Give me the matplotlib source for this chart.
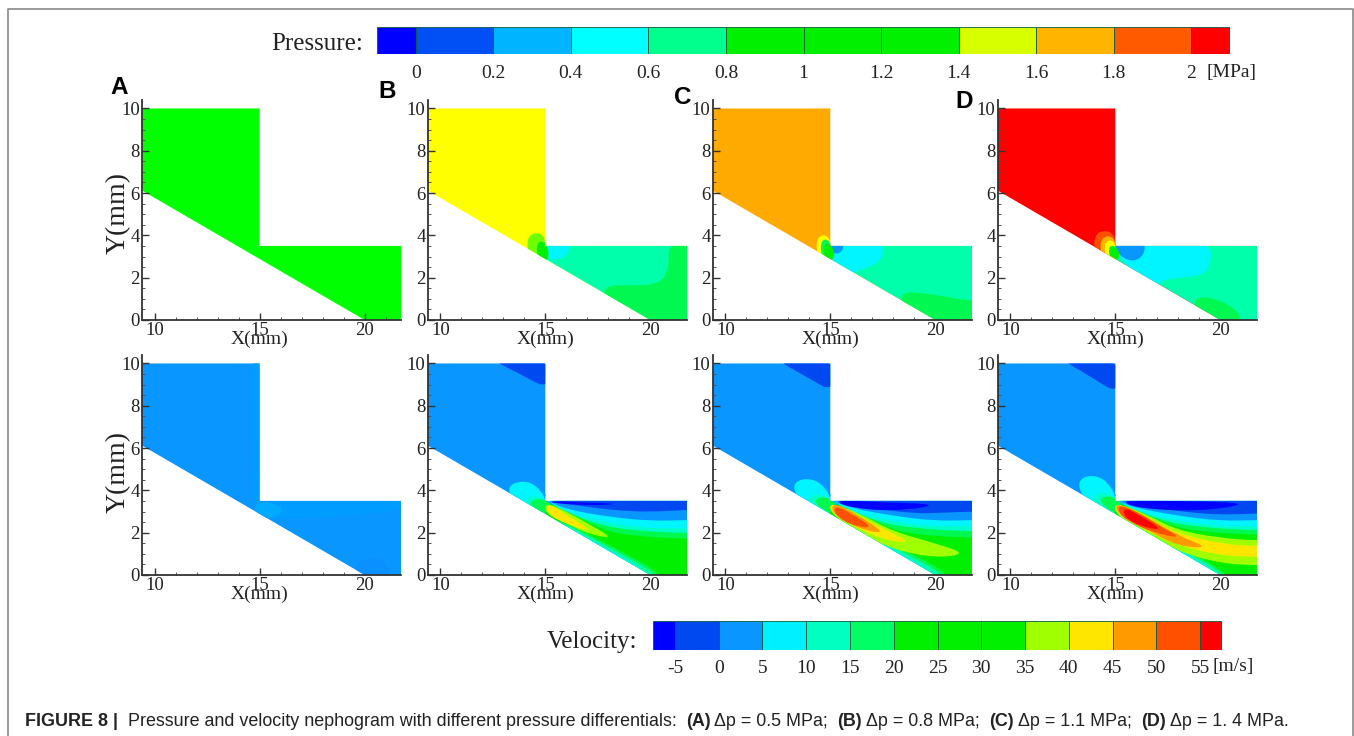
# coding: utf-8
import matplotlib
matplotlib.use('Agg')
import matplotlib.pyplot as plt
from matplotlib.path import Path
from matplotlib.patches import PathPatch, Polygon
import numpy as np

W, H = 1354, 736

# colour bars
p_ticks = [0, 0.2, 0.4, 0.6, 0.8, 1, 1.2, 1.4, 1.6, 1.8, 2]
p_edges = [-0.1, 0, 0.2, 0.4, 0.6, 0.8, 1, 1.2, 1.4, 1.6, 1.8, 2, 2.1]
p_colors = ['#0000ff', '#0050f5', '#00b4ff', '#00ffff', '#00ff8c', '#00f000',
            '#00f000', '#00f000', '#d8ff00', '#ffb400', '#ff5a00', '#ff0000']
v_ticks = [-5, 0, 5, 10, 15, 20, 25, 30, 35, 40, 45, 50, 55]
v_edges = [-7.5, -5, 0, 5, 10, 15, 20, 25, 30, 35, 40, 45, 50, 55, 57.5]
v_colors = ['#0000ff', '#0048f0', '#0a96ff', '#00f0ff', '#00ffc0', '#00ff64', '#00f000',
            '#00f000', '#00f000', '#a0ff00', '#ffe600', '#ff9a00', '#ff5000', '#ff0000']

# flow domain, mm
domain = [(9.4, 10), (15, 10), (15, 3.5), (21.75, 3.5), (21.75, 0), (20, 0), (9.4, 6.12)]
x_ticks = [10, 15, 20]
y_ticks = [0, 2, 4, 6, 8, 10]

GREEN = '#00f000'
AQUA = '#00ffaa'
CYAN = '#00f5ff'
SKY = '#0a96ff'
BLUE1 = '#0048f0'
BLUE0 = '#0000ff'
MINT = '#00ffc8'
LIME = '#00f850'
YGREEN = '#a0ff00'
YELLOW = '#ffe600'
ORANGE = '#ff9a00'
DORANGE = '#ff5000'
RED = '#ff0000'

# pressure contours: (colour, outline in mm), painted in order
pa_base = '#00ff00'
pa_regions = []

pb_base = '#ffff00'
pb_regions = [
    (AQUA, [(15, 3.9), (24, 3.9), (24, -2), (14, -2), (14.9, 3.1)]),
    (LIME, [(20.85, 3.8), (20.9, 2.5), (20.5, 1.7), (19, 1.62), (18, 1.65), (17.7, 1.2), (18, -1), (24, -1), (24, 3.8)]),
    (CYAN, [(15, 3.8), (16.25, 3.8), (16.1, 3.05), (15.5, 2.8), (15, 3.0)]),
    ('#70ff00', [(14.15, 3.0), (14.15, 4.1), (15.02, 4.1), (15.02, 2.7)]),
    (GREEN, [(14.6, 3.0), (14.6, 3.7), (15.02, 3.7), (15.2, 3.1), (15.0, 2.7)]),
]

pc_base = '#ffaa00'
pc_regions = [
    (AQUA, [(15, 3.9), (24, 3.9), (24, -2), (14, -2), (14.9, 3.1)]),
    (LIME, [(18.3, 0.9), (18.5, 1.3), (19.2, 1.3), (20.5, 1.1), (21.75, 0.88), (24, 0.88), (24, -1), (19, -1)]),
    (CYAN, [(15, 3.8), (17.5, 3.8), (17.5, 2.9), (17, 2.55), (16.2, 2.3), (15.5, 2), (15, 3)]),
    (SKY, [(15, 3.8), (15.65, 3.8), (15.6, 3.25), (15.25, 3.1), (15, 3.3)]),
    ('#ffff00', [(14.35, 3.0), (14.35, 4.0), (15.02, 4.0), (15.02, 2.7)]),
    (LIME, [(14.55, 3.0), (14.55, 3.8), (15.02, 3.8), (15.02, 2.7)]),
    (GREEN, [(14.7, 3.0), (14.7, 3.6), (15.02, 3.6), (15.25, 3.1), (15.0, 2.7)]),
]

pd_base = '#ff0000'
pd_regions = [
    (AQUA, [(15, 3.9), (24, 3.9), (24, -2), (14, -2), (14.9, 3.1)]),
    (LIME, [(18.7, 0.8), (19, 1.1), (19.8, 1.0), (20.6, 0.6), (21, 0.15), (21.1, -1), (19, -1)]),
    (CYAN, [(15, 3.8), (19.55, 3.8), (19.55, 2.5), (19, 2.05), (17.3, 1.95), (16.9, 1.5), (15, 3)]),
    (SKY, [(15, 3.8), (16.4, 3.8), (16.4, 3.1), (15.9, 2.75), (15.3, 2.95), (15, 3.4)]),
    (DORANGE, [(14.0, 3.0), (14.0, 4.2), (15.02, 4.2), (15.02, 2.7)]),
    ('#ffb400', [(14.3, 3.0), (14.3, 3.95), (15.02, 3.95), (15.02, 2.7)]),
    ('#ffff00', [(14.5, 3.0), (14.5, 3.75), (15.02, 3.75), (15.02, 2.7)]),
    (GREEN, [(14.7, 3.0), (14.7, 3.5), (15.02, 3.5), (15.25, 3.05), (15, 2.7)]),
]

# velocity contours
va_base = '#0a96ff'
va_regions = [
    ('#009cff', [(14.5, 10.2), (14.7, 6), (14.6, 3.4), (15.5, 2.5), (22, 3), (22, 3.6), (15.2, 3.6), (15.2, 10.2)]),
    ('#00aaff', [(14.7, 3.3), (15.3, 3.5), (16.3, 3.1), (15.5, 2.6), (14.9, 2.8)]),
    ('#0a90ff', [(19.5, 0.5), (20.3, 0.9), (21.1, 0.6), (21.2, -0.3), (19.8, -0.3)]),
]

vb_base = SKY
vb_regions = [
    (BLUE1, [(12.2, 10.3), (13.8, 9.5), (15.2, 8.75), (15.2, 10.3)]),
    (CYAN, [(13.2, 3.9), (13.4, 4.35), (14.2, 4.45), (14.8, 4.0), (15.05, 3.45), (14.9, 2.8), (14, 3.0)]),
    (MINT, [(13.9, 3.35), (14.3, 3.75), (14.9, 3.65), (15.04, 3.4), (15, 2.8), (14.3, 3)]),
    (GREEN, [(15, 3.5), (24, 3.5), (24, -2), (20, -2), (14.8, 2.8)]),
    (LIME, [(14.9, 3.0), (18, 1.45), (20.95, -0.15), (20, -1), (14, 2)]),
    (AQUA, [(14.9, 2.98), (18, 1.32), (20.6, -0.1), (20, -1), (14, 2)]),
    (CYAN, [(14.9, 2.95), (18, 1.22), (20.25, -0.1), (20, -1), (14, 2)]),
    (LIME, [(15, 3.55), (17.5, 2.2), (19, 1.85), (21.75, 1.7), (24, 1.7), (24, 4), (15, 4)]),
    (MINT, [(15, 3.55), (17, 2.5), (19, 2.1), (21.75, 1.97), (24, 1.97), (24, 4), (15, 4)]),
    (CYAN, [(15, 3.55), (16, 2.95), (18, 2.45), (20, 2.2), (21.75, 2.2), (24, 2.2), (24, 4), (15, 4)]),
    (SKY, [(15, 3.55), (16, 3.1), (18, 2.75), (20, 2.55), (21.75, 2.6), (24, 2.6), (24, 4), (15, 4)]),
    (BLUE1, [(15, 3.55), (17, 3.2), (19, 3.0), (20.5, 3.0), (21.75, 3.08), (24, 3.08), (24, 4), (15, 4)]),
    (BLUE0, [(15.3, 3.5), (17, 3.42), (18.7, 3.36), (17, 3.28), (15.3, 3.4)]),
    (LIME, [(14.2, 3.35), (14.5, 3.6), (15.05, 3.55), (15.4, 3.2), (15, 2.85)]),
    (YGREEN, [(15, 3.45), (16, 3.0), (17, 2.45), (18.3, 1.7), (17, 1.95), (16, 2.45), (15, 2.9)]),
    (YELLOW, [(15.1, 3.4), (16, 2.85), (17.35, 2.0), (16, 2.4), (15.1, 2.9)]),
]

vc_base = SKY
vc_regions = [
    (BLUE1, [(12.2, 10.3), (13.8, 9.4), (15.2, 8.6), (15.2, 10.3)]),
    (CYAN, [(13.2, 4.0), (13.4, 4.5), (14.2, 4.55), (14.8, 4.1), (15.05, 3.5), (14.9, 2.8), (14, 3.0)]),
    (MINT, [(13.9, 3.45), (14.2, 3.85), (14.9, 3.7), (15.04, 3.4), (15, 2.8), (14.3, 3)]),
    (GREEN, [(15, 3.5), (24, 3.5), (24, -2), (20, -2), (14.8, 2.8)]),
    (LIME, [(14.9, 3.0), (18, 1.45), (21.1, -0.15), (20, -1), (14, 2)]),
    (AQUA, [(14.9, 2.98), (18, 1.32), (20.7, -0.1), (20, -1), (14, 2)]),
    (CYAN, [(14.9, 2.95), (18, 1.22), (20.3, -0.1), (20, -1), (14, 2)]),
    (LIME, [(15, 3.55), (17.5, 2.3), (19, 1.9), (21.75, 1.75), (24, 1.75), (24, 4), (15, 4)]),
    (MINT, [(15, 3.55), (17, 2.55), (19, 2.2), (21.75, 2.05), (24, 2.05), (24, 4), (15, 4)]),
    (CYAN, [(15, 3.55), (16, 3.0), (18, 2.5), (20, 2.3), (21.75, 2.3), (24, 2.3), (24, 4), (15, 4)]),
    (SKY, [(15, 3.55), (16, 3.15), (18, 2.8), (20, 2.55), (21.75, 2.6), (24, 2.6), (24, 4), (15, 4)]),
    (BLUE1, [(15, 3.55), (17, 3.15), (19, 2.9), (20.5, 2.95), (21.75, 3.0), (24, 3.0), (24, 4), (15, 4)]),
    (BLUE0, [(15.2, 3.55), (17, 3.45), (20.4, 3.34), (18, 3.0), (15.8, 3.2)]),
    (LIME, [(14.2, 3.45), (14.5, 3.7), (15.05, 3.6), (15.4, 3.2), (15, 2.85)]),
    (YGREEN, [(15, 3.45), (16.5, 2.85), (18, 2.05), (20, 1.5), (21.5, 1.0), (20, 0.8), (18, 1.2), (16.5, 1.95), (15, 2.9)]),
    (YELLOW, [(15, 3.45), (16.5, 2.7), (17.8, 2.05), (18.9, 1.5), (17.6, 1.65), (16, 2.35), (15, 2.95)]),
    (ORANGE, [(15.1, 3.45), (16.3, 2.85), (17.7, 1.92), (16.3, 2.2), (15.1, 2.9)]),
    (DORANGE, [(15.2, 3.3), (16, 2.9), (17.1, 2.2), (16, 2.35), (15.2, 2.85)]),
]

vd_base = SKY
vd_regions = [
    (BLUE1, [(12.2, 10.3), (13.8, 9.4), (15.2, 8.5), (15.2, 10.3)]),
    (CYAN, [(13.2, 4.1), (13.4, 4.65), (14.2, 4.7), (14.8, 4.2), (15.05, 3.55), (14.9, 2.8), (14, 3.0)]),
    (MINT, [(13.9, 3.5), (14.2, 3.95), (14.9, 3.75), (15.04, 3.4), (15, 2.8), (14.3, 3)]),
    (GREEN, [(15, 3.5), (24, 3.5), (24, -2), (20, -2), (14.8, 2.8)]),
    (LIME, [(14.9, 3.0), (18, 1.4), (20.75, -0.15), (20, -1), (14, 2)]),
    (AQUA, [(14.9, 2.98), (18, 1.3), (20.5, -0.1), (20, -1), (14, 2)]),
    (CYAN, [(14.9, 2.95), (18, 1.22), (20.25, -0.1), (20, -1), (14, 2)]),
    (LIME, [(15, 3.55), (17.5, 2.35), (19, 2.05), (21.75, 1.88), (24, 1.88), (24, 4), (15, 4)]),
    (MINT, [(15, 3.55), (17, 2.6), (19, 2.25), (21.75, 2.1), (24, 2.1), (24, 4), (15, 4)]),
    (CYAN, [(15, 3.55), (16, 3.0), (18, 2.55), (20, 2.3), (21.75, 2.3), (24, 2.3), (24, 4), (15, 4)]),
    (SKY, [(15, 3.55), (16, 3.15), (18, 2.8), (20, 2.55), (21.75, 2.6), (24, 2.6), (24, 4), (15, 4)]),
    (BLUE1, [(15, 3.55), (17, 3.15), (19, 2.9), (20.5, 2.85), (21.75, 2.92), (24, 2.92), (24, 4), (15, 4)]),
    (BLUE0, [(15.2, 3.55), (18, 3.5), (21.6, 3.4), (19, 3.0), (16, 3.15)]),
    (LIME, [(14.2, 3.5), (14.5, 3.75), (15.05, 3.65), (15.4, 3.2), (15, 2.85)]),
    (YGREEN, [(15, 3.45), (16.5, 2.85), (18, 2.1), (20, 1.75), (21.75, 1.62), (24, 1.62), (24, 0.45), (21.75, 0.45), (20, 0.55), (18, 1.1), (16.5, 1.95), (15, 2.85)]),
    (YELLOW, [(15, 3.45), (16.5, 2.7), (18, 1.95), (20, 1.47), (21.75, 1.35), (24, 1.35), (24, 0.85), (21.75, 0.85), (20, 0.92), (18, 1.4), (16.5, 2.1), (15, 2.9)]),
    (ORANGE, [(15.05, 3.45), (16.5, 2.75), (18, 1.85), (19.5, 1.28), (18, 1.35), (16.5, 2.15), (15.05, 2.9)]),
    (DORANGE, [(15.15, 3.35), (16.3, 2.85), (17.2, 2.25), (18.2, 1.72), (16.8, 2.0), (15.6, 2.55), (15.15, 2.95)]),
    (RED, [(15.4, 3.2), (16.2, 2.8), (17.3, 2.1), (16.2, 2.3), (15.4, 2.75)]),
]

panels_x = [142, 427.7, 712.7, 997.7]
pressure = [(pa_base, pa_regions), (pb_base, pb_regions), (pc_base, pc_regions), (pd_base, pd_regions)]
velocity = [(va_base, va_regions), (vb_base, vb_regions), (vc_base, vc_regions), (vd_base, vd_regions)]
letters = ['A', 'B', 'C', 'D']
letters_xy = [(110, 88), (378, 91), (674, 98), (955, 101)]

caption = [('FIGURE 8 | ', True),
           ('Pressure and velocity nephogram with different pressure differentials: ', False),
           ('(A)', True), (' \u0394p = 0.5 MPa; ', False),
           ('(B)', True), (' \u0394p = 0.8 MPa; ', False),
           ('(C)', True), (' \u0394p = 1.1 MPa; ', False),
           ('(D)', True), (' \u0394p = 1. 4 MPa.', False)]


def px_axes(l, t, w, h):
    return fig.add_axes([l / W, 1 - (t + h) / H, w / W, h / H])


def smooth_path(pts):
    # closed quadratic curve through the midpoints of the outline
    pts = np.array(pts, dtype=float)
    mids = (pts + np.roll(pts, -1, axis=0)) / 2
    verts = [mids[-1]]
    codes = [Path.MOVETO]
    for i in range(len(pts)):
        verts += [pts[i], mids[i]]
        codes += [Path.CURVE3, Path.CURVE3]
    return Path(verts, codes)


def draw_panel(left, top, base, regions):
    ax = px_axes(left, top, 21 * 12.35, 21.15 * 10.4)
    ax.set_xlim(9.4, 21.75)
    ax.set_ylim(0, 10.4)
    back = Polygon(domain, closed=True, fc=base, ec='none', zorder=1)
    ax.add_patch(back)
    for col, pts in regions:
        p = PathPatch(smooth_path(pts), fc=col, ec='none', zorder=2)
        ax.add_patch(p)
        p.set_clip_path(back)
    for s in ['top', 'right']:
        ax.spines[s].set_visible(False)
    for s in ['left', 'bottom']:
        ax.spines[s].set_linewidth(1.3)
        ax.spines[s].set_color('#333333')
    ax.set_xticks(x_ticks)
    ax.set_yticks(y_ticks)
    ax.set_xticks(np.arange(10, 22, 1), minor=True)
    ax.set_yticks(np.arange(0, 10.1, 0.5), minor=True)
    ax.tick_params(axis='both', which='major', direction='in', length=5, width=1, color='#333333',
                   labelsize=13.5, pad=1.5, labelcolor='#222222')
    ax.tick_params(axis='both', which='minor', direction='in', length=2.5, width=0.7, color='#555555')
    ax.annotate('X(mm)', (15, 0), xytext=(0, -14), textcoords='offset points', ha='center', va='center',
                fontsize=14, color='#222222')
    ax.patch.set_alpha(0)
    return ax


plt.rcParams['font.family'] = ['Liberation Serif', 'DejaVu Serif']
fig = plt.figure(figsize=(W / 100, H / 100), dpi=100)

# outer frame, open at the bottom edge of the picture
bg = fig.add_axes([0, 0, 1, 1])
bg.set_xlim(0, W)
bg.set_ylim(H, 0)
bg.axis('off')
bg.plot([8, 8, 1353, 1353], [H + 2, 9, 9, H + 2], color='#8a8a8a', lw=1.2)

for i in range(4):
    base, regions = pressure[i]
    draw_panel(panels_x[i], 100, base, regions)
    base, regions = velocity[i]
    draw_panel(panels_x[i], 355, base, regions)
    bg.text(letters_xy[i][0], letters_xy[i][1], letters[i], family='Liberation Sans', fontweight='bold',
            fontsize=17.5, ha='left', va='center', color='black')

for y0 in [213, 472]:
    bg.text(118, y0, 'Y(mm)', fontsize=20, rotation=90, ha='center', va='center', color='#222222')

# colour bars
cb1 = px_axes(377, 27, 853, 27)
cb1.bar(p_edges[:-1], 1, width=np.diff(p_edges), align='edge', color=p_colors, edgecolor='#0a5a3c', linewidth=0.6)
cb1.set_xlim(p_edges[0], p_edges[-1])
cb1.set_ylim(0, 1)
cb1.axis('off')
for t in p_ticks:
    cb1.annotate(str(t), (t, 0), xytext=(0, -14), textcoords='offset points', ha='center', va='center',
                 fontsize=14, color='#222222')
bg.text(1207, 73, '[MPa]', fontsize=14, ha='left', va='center', color='#222222')
bg.text(271, 44, 'Pressure:', fontsize=18, ha='left', va='center', color='#222222')

cb2 = px_axes(653, 621, 569, 29)
cb2.bar(v_edges[:-1], 1, width=np.diff(v_edges), align='edge', color=v_colors, edgecolor='#0a5a3c', linewidth=0.6)
cb2.set_xlim(v_edges[0], v_edges[-1])
cb2.set_ylim(0, 1)
cb2.axis('off')
for t in v_ticks:
    cb2.annotate(str(t), (t, 0), xytext=(0, -13), textcoords='offset points', ha='center', va='center',
                 fontsize=14, color='#222222')
bg.text(1212, 666, '[m/s]', fontsize=14, ha='left', va='center', color='#222222')
bg.text(547, 642, 'Velocity:', fontsize=18, ha='left', va='center', color='#222222')

# caption, one text per run of bold or plain
fig.canvas.draw()
rend = fig.canvas.get_renderer()
cx = 25
for chunk, is_bold in caption:
    t = bg.text(cx, 722, chunk, family='Liberation Sans', fontsize=12.9, va='center', ha='left', color='#222222',
                fontweight='bold' if is_bold else 'normal')
    # trailing spaces are not measured, so add their width by hand
    cx += t.get_window_extent(rend).width + (4.5 if chunk.endswith(' ') else 0)

fig.savefig('out.png', dpi=100)
